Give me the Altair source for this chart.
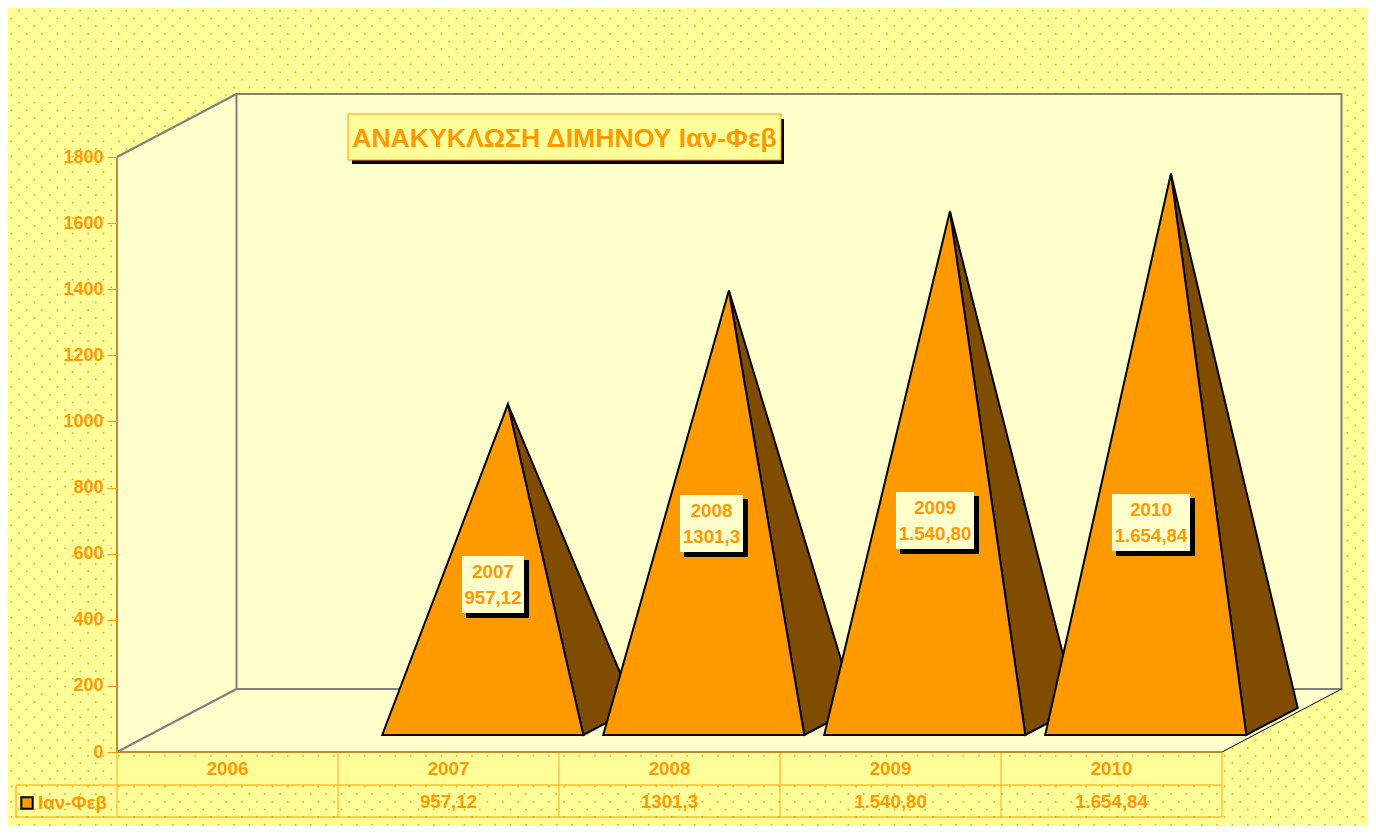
import altair as alt
import numpy as np
import pandas as pd

# ---- chart values ----
years = ["2006", "2007", "2008", "2009", "2010"]
values = [None, 957.12, 1301.3, 1540.80, 1654.84]
value_texts = ["", "957,12", "1301,3", "1.540,80", "1.654,84"]
y_ticks = [0, 200, 400, 600, 800, 1000, 1200, 1400, 1600, 1800]
title_text = "ΑΝΑΚΥΚΛΩΣΗ ΔΙΜΗΝΟΥ Ιαν-Φεβ"
series_name = "Ιαν-Φεβ"

# ---- layout and style ----
W, H = 1360, 818
LEFT, TOP = 8, 8
X0, CAT_W = 117, 221.0      # page x of category 0, pixels per category
Y0, PX_PER_UNIT = 752, 595 / 1800
ORANGE = "#ff9900"
BROWN = "#804d00"
BG = "#ffff99"
WALL = "#ffffcc"
GRAY = "#808080"
AXIS_C = "#c08a30"
FONT = "Liberation Sans"
TXT = 18.7

def dx(px):
    return (px - X0) / CAT_W

def dy(py):
    return (Y0 - py) / PX_PER_UNIT

x_scale = alt.Scale(domain=[dx(LEFT), dx(LEFT + W)], nice=False, zero=False)
y_scale = alt.Scale(domain=[dy(TOP + H), dy(TOP)], nice=False, zero=False)
value_axis = alt.Axis(
    values=y_ticks,
    title=None,
    format="d",
    offset=-(X0 - LEFT),
    domain=False,
    grid=False,
    ticks=True,
    tickColor=ORANGE,
    tickSize=10,
    labelColor=ORANGE,
    labelFont=FONT,
    labelFontSize=18,
    labelFontWeight="bold",
    labelPadding=4,
    zindex=1,
)
X = alt.X("x:Q", scale=x_scale, axis=None)
Y = alt.Y("y:Q", scale=y_scale, axis=value_axis)

DEPTH_X, DEPTH_Y = 119.5 / CAT_W, 63 / PX_PER_UNIT


def polygon(points, **mark):
    """Filled convex polygon, as an area between its upper and lower chain."""
    xs = sorted({p[0] for p in points})
    rows = []
    n = len(points)
    for x in xs:
        hits = []
        for i in range(n):
            (ax, ay), (bx, by) = points[i], points[(i + 1) % n]
            if min(ax, bx) <= x <= max(ax, bx):
                if ax == bx:
                    hits += [ay, by]
                else:
                    hits.append(ay + (by - ay) * (x - ax) / (bx - ax))
        rows.append({"x": x, "y": max(hits), "y2": min(hits)})
    return alt.Chart(pd.DataFrame(rows)).mark_area(
        strokeJoin="miter", strokeMiterLimit=4, **mark
    ).encode(x=X, y=Y, y2="y2:Q")


def segment(x1, y1, x2, y2, color, width):
    return alt.Chart(pd.DataFrame({"x": [x1, x2], "y": [y1, y2], "o": [0, 1]})).mark_line(
        color=color, strokeWidth=width
    ).encode(x=X, y=Y, order="o:Q")


def box(px1, py1, px2, py2, **mark):
    d = pd.DataFrame({"x": [dx(px1)], "x2": [dx(px2)], "y": [dy(py1)], "y2": [dy(py2)]})
    return alt.Chart(d).mark_rect(**mark).encode(x=X, x2="x2:Q", y=Y, y2="y2:Q")


def text(rows, size, align="center"):
    return alt.Chart(pd.DataFrame(rows)).mark_text(
        font=FONT, fontWeight="bold", fontSize=size, color=ORANGE, align=align, baseline="middle"
    ).encode(x=X, y=Y, text="t:N")


layers = []

# dotted page texture
PITCH_X, PITCH_Y = 15.36, 7.68
dots = []
for r, py in enumerate(np.arange(10.7, TOP + H, PITCH_Y)):
    for px in np.arange(19 if r % 2 == 0 else 11.3, LEFT + W, PITCH_X):
        dots.append({"x": dx(px), "y": dy(py)})
layers.append(
    alt.Chart(pd.DataFrame(dots)).mark_circle(size=4, color=ORANGE, opacity=0.8).encode(x=X, y=Y)
)

# the 3-D box: back wall, left wall, floor
depth_top = 1800 + DEPTH_Y
layers.append(polygon([(0, 0), (DEPTH_X, DEPTH_Y), (5 + DEPTH_X, DEPTH_Y), (5, 0)], color=WALL))
layers.append(polygon([(0, 0), (0, 1800), (DEPTH_X, depth_top), (DEPTH_X, DEPTH_Y)], color=WALL))
d = pd.DataFrame({"x": [DEPTH_X], "x2": [5 + DEPTH_X], "y": [depth_top], "y2": [DEPTH_Y]})
layers.append(
    alt.Chart(d).mark_rect(fill=WALL, stroke=GRAY, strokeWidth=2).encode(x=X, x2="x2:Q", y=Y, y2="y2:Q")
)
layers.append(segment(0, 1800, DEPTH_X, depth_top, GRAY, 2))
layers.append(segment(0, 0, DEPTH_X, DEPTH_Y, GRAY, 2))
layers.append(segment(5, 0, 5 + DEPTH_X, DEPTH_Y, "#000000", 1))

# pyramids
FRONT, BACK, APEX = 0.27, 0.70, 0.497
HALF = 0.455
BASE_SHIFT = 2 / CAT_W
for i, v in enumerate(values):
    if v is None:
        continue
    c = i + 0.5
    fx, fy = c + FRONT * DEPTH_X + BASE_SHIFT, FRONT * DEPTH_Y
    ax, ay = c + APEX * DEPTH_X, v + APEX * DEPTH_Y
    rx = fx + HALF
    bx, by = c + BACK * DEPTH_X + HALF + BASE_SHIFT, BACK * DEPTH_Y
    layers.append(
        polygon([(ax, ay), (rx, fy), (bx, by)], color=BROWN, stroke="#000000", strokeWidth=2)
    )
    layers.append(
        polygon([(fx - HALF, fy), (ax, ay), (rx, fy)], color=ORANGE, stroke="#000000", strokeWidth=2)
    )

# data labels on the pyramids (page-pixel layout of the callouts)
label_boxes = [(462, 556, 524, 613), (680, 495, 743, 552), (896, 492, 974, 549), (1112, 494, 1190, 551)]
for (x1, y1, x2, y2), yr, tx in zip(label_boxes, years[1:], value_texts[1:]):
    layers.append(box(x1 + 4, y1 + 4, x2 + 5, y2 + 5, color="#000000"))
    layers.append(box(x1, y1, x2, y2, fill=WALL))
    xc, yc = (x1 + x2) / 2, (y1 + y2) / 2
    layers.append(
        text([{"x": dx(xc), "y": dy(yc - 13), "t": yr}, {"x": dx(xc), "y": dy(yc + 13), "t": tx}], TXT)
    )

# title box
layers.append(box(352, 119, 784, 164, color="#000000"))
layers.append(box(348, 114, 781, 160, fill=BG, stroke=ORANGE, strokeWidth=1))
layers.append(text([{"x": dx(564.5), "y": dy(139), "t": title_text}], 26.6))

# data table
ROW1, ROW2, LEG = dy(785), dy(817), dx(16)
layers.append(box(117, 757, 1222, 785, fill=BG))
layers.append(segment(LEG, ROW1, 5, ROW1, ORANGE, 1))
layers.append(segment(LEG, ROW2, 5, ROW2, ORANGE, 1))
layers.append(segment(LEG, ROW1, LEG, ROW2, ORANGE, 1))
for k in range(1, 6):
    layers.append(segment(k, 0, k, ROW2, "#ffa922", 1))
layers.append(segment(0, 0, 0, ROW2, "#ffa922", 1))
layers.append(text([{"x": i + 0.5, "y": dy(769), "t": t} for i, t in enumerate(years)], TXT))
layers.append(text([{"x": i + 0.5, "y": dy(801.5), "t": t} for i, t in enumerate(value_texts) if t], TXT))

# legend key
layers.append(
    alt.Chart(pd.DataFrame({"x": [dx(27)], "y": [dy(803)]})).mark_square(
        size=130, fill=ORANGE, stroke="#000000", strokeWidth=2, opacity=1
    ).encode(x=X, y=Y)
)
layers.append(text([{"x": dx(38), "y": dy(803), "t": series_name}], TXT, align="left"))

# front edges of the box
layers.append(segment(0, 0, 0, 1800, AXIS_C, 2))
layers.append(segment(0, 0, 5, 0, AXIS_C, 2))

chart = (
    alt.layer(*layers)
    .properties(
        width=W,
        height=H,
        background=BG,
        padding=0,
        autosize=alt.AutoSizeParams(type="none"),
    )
    .configure_view(stroke=None)
)
chart.save("out.html", embed_options={"renderer": "svg", "actions": False})
